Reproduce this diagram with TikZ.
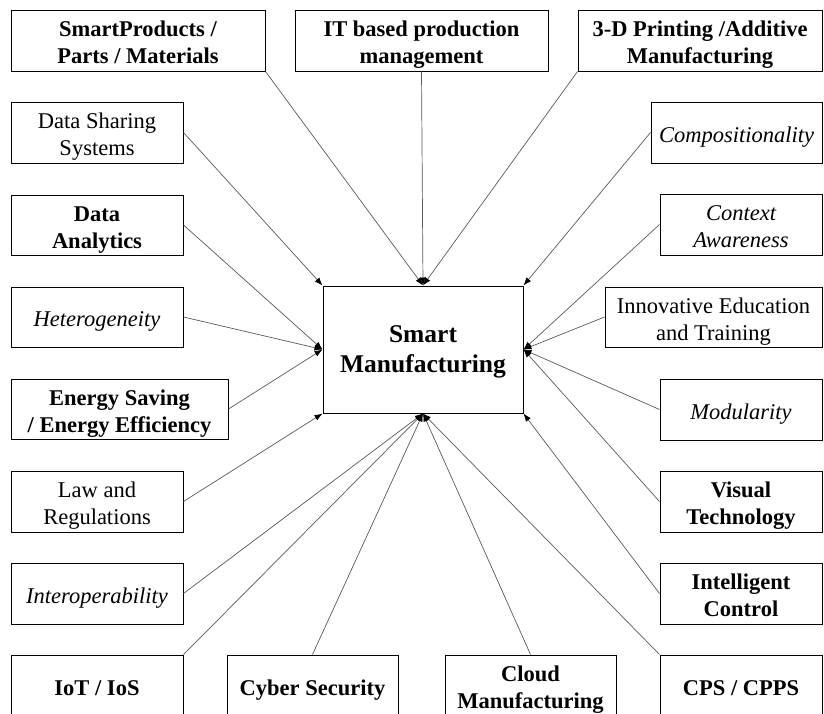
\documentclass[tikz,border=0pt]{standalone}
\usepackage{fontspec}
\setmainfont{Liberation Serif}
\usetikzlibrary{arrows.meta}
\newcommand\lbl[2][4.3pt]{\raisebox{-#1}[\height][\depth]{\begin{tabular}{@{}c@{}}#2\end{tabular}}}
\tikzset{
  bx/.style={draw=black, line width=1pt, inner sep=0pt, align=center, minimum height=61pt,
    font=\fontsize{22.5}{27}\selectfont},
  bb/.style={bx, font=\fontsize{22.5}{27}\selectfont\bfseries},
  bi/.style={bx, font=\fontsize{22.5}{27}\selectfont\itshape},
  conn/.style={draw=black!65, line width=0.7pt, -{Latex[length=8pt,width=6pt,fill=black,color=black]}}
}
\begin{document}
\begin{tikzpicture}[x=1pt,y=-1pt]
\useasboundingbox (0,0) rectangle (824,713);
% centre
\node[bx, minimum width=200pt, minimum height=127pt, font=\fontsize{25.5}{30}\selectfont\bfseries] (C) at (423,349.5) {\lbl[2.4pt]{Smart\\Manufacturing}};
% top row
\node[bb, minimum width=254pt] (sp) at (138,40.5) {\lbl{SmartProducts /\\Parts / Materials}};
\node[bb, minimum width=253pt] (it) at (421.5,40.5) {\lbl{IT based production\\management}};
\node[bb, minimum width=244pt] (tdp) at (700,40.5) {\lbl{3-D Printing /Additive\\Manufacturing}};
% left column
\node[bx, minimum width=172pt] (ds) at (97,132.5) {\lbl{Data Sharing\\Systems}};
\node[bb, minimum width=172pt, minimum height=60pt] (da) at (97,225) {\lbl{Data\\Analytics}};
\node[bi, minimum width=172pt, minimum height=60pt] (het) at (97,317) {\lbl{Heterogeneity}};
\node[bb, minimum width=217pt, minimum height=60pt] (es) at (119.5,409) {\lbl{Energy Saving\\/ Energy Efficiency}};
\node[bx, minimum width=172pt] (lr) at (97,501.5) {\lbl{Law and\\Regulations}};
\node[bi, minimum width=172pt] (io) at (97,593.5) {\lbl{Interoperability}};
% right column
\node[bi, minimum width=171pt] (cmp) at (736.5,132.5) {\lbl{Compositionality}};
\node[bi, minimum width=162pt] (ca) at (741,224.5) {\lbl{Context\\Awareness}};
\node[bx, minimum width=217pt, minimum height=60pt] (ie) at (713.5,317) {\lbl{Innovative Education\\and Training}};
\node[bi, minimum width=162pt] (mod) at (741,409.5) {\lbl{Modularity}};
\node[bb, minimum width=162pt] (vt) at (741,501.5) {\lbl{Visual\\Technology}};
\node[bb, minimum width=162pt] (ic) at (741,593.5) {\lbl{Intelligent\\Control}};
% bottom row
\node[bb, minimum width=172pt] (iot) at (97,685.5) {\lbl{IoT / IoS}};
\node[bb, minimum width=171pt] (cs) at (312.5,685.5) {\lbl{Cyber Security}};
\node[bb, minimum width=171pt] (cm) at (530.5,685.5) {\lbl{Cloud\\Manufacturing}};
\node[bb, minimum width=162pt] (cps) at (741,685.5) {\lbl{CPS / CPPS}};
% connectors
\draw[conn] (sp.south east) -- (C.north);
\draw[conn] (it.south) -- (C.north);
\draw[conn] (tdp.south west) -- (C.north);
\draw[conn] (ds.east) -- (C.north west);
\draw[conn] (cmp.west) -- (C.north east);
\draw[conn] (da.east) -- (C.west);
\draw[conn] (het.east) -- (C.west);
\draw[conn] (es.east) -- (C.west);
\draw[conn] (ca.west) -- (C.east);
\draw[conn] (ie.west) -- (C.east);
\draw[conn] (mod.west) -- (C.east);
\draw[conn] (vt.west) -- (C.east);
\draw[conn] (lr.east) -- (C.south west);
\draw[conn] (ic.west) -- (C.south east);
\draw[conn] (io.east) -- (C.south);
\draw[conn] (iot.north east) -- (C.south);
\draw[conn] (cs.north) -- (C.south);
\draw[conn] (cm.north) -- (C.south);
\draw[conn] (cps.north west) -- (C.south);
\end{tikzpicture}
\end{document}
